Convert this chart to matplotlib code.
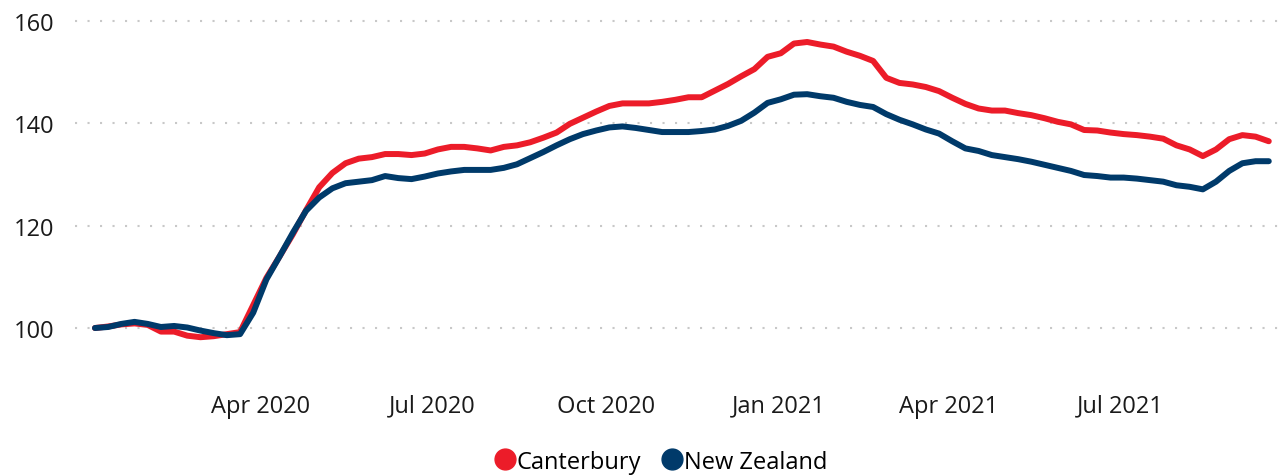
import numpy as np
import pandas as pd
import matplotlib
matplotlib.use('Agg')
from matplotlib import pyplot as plt
import matplotlib.dates as mdates
from matplotlib.lines import Line2D

plt.rcParams['font.family'] = ['Open Sans', 'DejaVu Sans']

# weekly index values, first week of Jan 2020 = 100
weeks = pd.date_range('2020-01-04', periods=90, freq='7D')

canterbury = [
    100.0, 100.3, 100.7, 100.9, 100.6, 99.3, 99.3, 98.5, 98.2, 98.4,
    98.8, 99.2, 104.5, 109.8, 114.0, 118.3, 123.0, 127.5, 130.3, 132.2,
    133.1, 133.4, 134.0, 134.0, 133.8, 134.1, 134.9, 135.4, 135.4, 135.1,
    134.7, 135.4, 135.7, 136.3, 137.2, 138.2, 139.9, 141.1, 142.3, 143.4,
    143.9, 143.9, 143.9, 144.2, 144.6, 145.1, 145.1, 146.4, 147.7, 149.2,
    150.6, 153.0, 153.7, 155.6, 155.9, 155.4, 155.0, 154.0, 153.2, 152.2,
    148.9, 147.9, 147.6, 147.1, 146.3, 145.0, 143.8, 142.9, 142.5, 142.5,
    142.0, 141.6, 141.0, 140.3, 139.8, 138.7, 138.6, 138.2, 137.9, 137.7,
    137.4, 137.0, 135.7, 134.9, 133.6, 134.9, 136.9, 137.7, 137.4, 136.5,
]
new_zealand = [
    100.0, 100.2, 100.8, 101.2, 100.8, 100.2, 100.4, 100.1, 99.5, 99.0,
    98.6, 98.8, 103.0, 109.5, 114.0, 118.6, 122.9, 125.5, 127.3, 128.3,
    128.6, 128.9, 129.7, 129.3, 129.1, 129.6, 130.2, 130.6, 130.9, 130.9,
    130.9, 131.3, 132.0, 133.2, 134.4, 135.7, 136.9, 137.9, 138.6, 139.2,
    139.4, 139.1, 138.7, 138.3, 138.3, 138.3, 138.5, 138.8, 139.5, 140.5,
    142.1, 144.0, 144.7, 145.6, 145.7, 145.3, 145.0, 144.2, 143.6, 143.2,
    141.8, 140.7, 139.8, 138.8, 138.0, 136.5, 135.1, 134.6, 133.8, 133.4,
    133.0, 132.5, 131.9, 131.3, 130.7, 129.9, 129.7, 129.4, 129.4, 129.2,
    128.9, 128.6, 127.9, 127.6, 127.1, 128.6, 130.7, 132.2, 132.6, 132.6,
]

red = '#EC1C29'
navy = '#003A6A'

fig = plt.figure(figsize=(12.82, 4.77), dpi=100)
ax = fig.add_axes([0.0585, 0.1987, 0.94, 0.7766])

ax.plot(weeks, canterbury, color=red, lw=4.3, solid_capstyle='round', solid_joinstyle='round')
ax.plot(weeks, new_zealand, color=navy, lw=4.3, solid_capstyle='round', solid_joinstyle='round')

ax.set_ylim(89.6, 162)
ax.set_yticks([100, 120, 140, 160])
ax.set_xlim(weeks[0] - pd.Timedelta(days=10.6), weeks[-1] + pd.Timedelta(days=6))
ax.set_xticks(pd.to_datetime(['2020-04-01', '2020-07-01', '2020-10-01',
                              '2021-01-01', '2021-04-01', '2021-07-01']))
ax.xaxis.set_major_formatter(mdates.DateFormatter('%b %Y'))

ax.grid(axis='y', color='#c8c8c8', lw=1.5, linestyle=(0, (1, 5)))
ax.set_axisbelow(True)
for s in ax.spines.values():
    s.set_visible(False)
ax.tick_params(axis='both', length=0, labelsize=17, colors='#1a1a1a')
ax.tick_params(axis='y', pad=15)
ax.tick_params(axis='x', pad=9)

handles = [Line2D([], [], ls='', marker='o', ms=15, color=red),
           Line2D([], [], ls='', marker='o', ms=15, color=navy)]
fig.legend(handles, ['Canterbury', 'New Zealand'], loc='center', bbox_to_anchor=(0.516, 0.03),
           ncol=2, frameon=False, fontsize=17, handlelength=0.8, handletextpad=0.1,
           columnspacing=0.9)

fig.savefig('out.png', dpi=100)
